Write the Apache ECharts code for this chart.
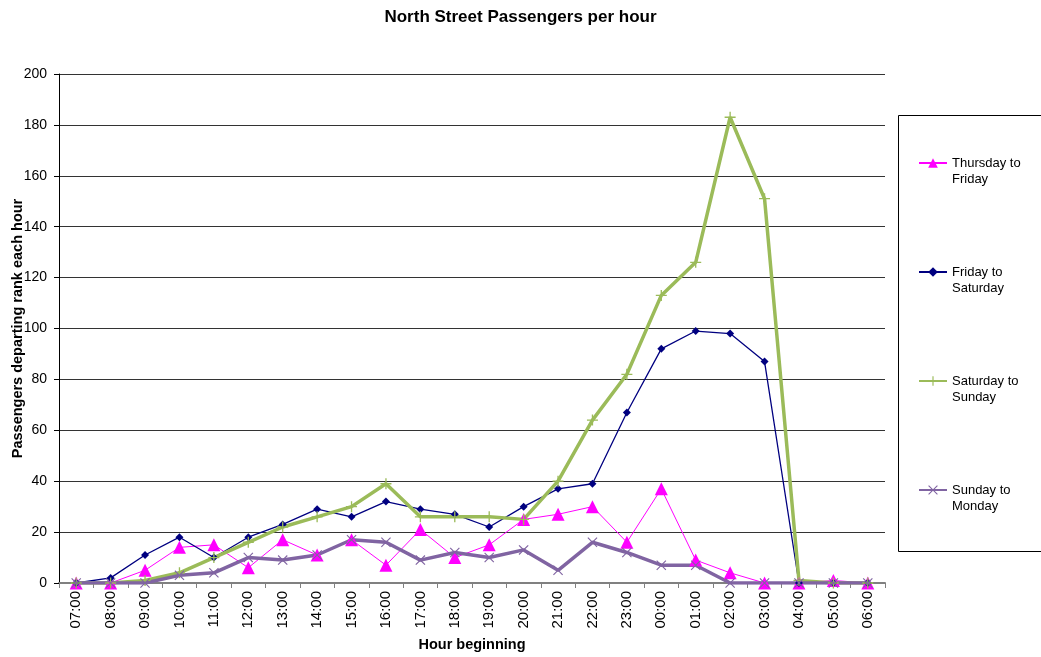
<!DOCTYPE html>
<html>
<head>
<meta charset="utf-8">
<script src="https://cdn.jsdelivr.net/npm/echarts@6/dist/echarts.min.js"></script>
<style>
  html, body { margin: 0; padding: 0; background: #fff; }
  #chart { width: 1041px; height: 657px; }
</style>
</head>
<body>
<div id="chart"></div>
<script>
'use strict';
// hours of departure, 07:00 through 06:00 next morning
const hours = ['07:00', '08:00', '09:00', '10:00', '11:00', '12:00', '13:00', '14:00', '15:00', '16:00', '17:00', '18:00',
  '19:00', '20:00', '21:00', '22:00', '23:00', '00:00', '01:00', '02:00', '03:00', '04:00', '05:00', '06:00'];
const thuFri = [0, 0, 5, 14, 15, 6, 17, 11, 17, 7, 21, 10, 15, 25, 27, 30, 16, 37, 9, 4, 0, 0, 1, 0];
const friSat = [0, 2, 11, 18, 10, 18, 23, 29, 26, 32, 29, 27, 22, 30, 37, 39, 67, 92, 99, 98, 87, 0, 0, 0];
const satSun = [0, 0, 1, 4, 10, 16, 22, 26, 30, 39, 26, 26, 26, 25, 40, 64, 82, 113, 126, 183, 151, 1, 0, 0];
const sunMon = [0, 0, 0, 3, 4, 10, 9, 11, 17, 16, 9, 12, 10, 13, 5, 16, 12, 7, 7, 0, 0, 0, 0, 0];
const yTicks = { min: 0, max: 200, step: 20 };

const FONT = '"Liberation Sans", Arial, sans-serif';
const PLUS = 'path://M4.4,0H5.6V4.4H10V5.6H5.6V10H4.4V5.6H0V4.4H4.4Z';
const CROSS = 'path://M0,0.8L0.8,0L5,4.2L9.2,0L10,0.8L5.8,5L10,9.2L9.2,10L5,5.8L0.8,10L0,9.2L4.2,5Z';

const series = [
  { name: 'Thursday to Friday', data: thuFri, color: '#FF00FF', width: 1, symbol: 'triangle', size: 13 },
  { name: 'Friday to Saturday', data: friSat, color: '#000080', width: 1.3, symbol: 'diamond', size: 8 },
  { name: 'Saturday to Sunday', data: satSun, color: '#9BBB59', width: 3.5, symbol: PLUS, size: 11 },
  { name: 'Sunday to Monday', data: sunMon, color: '#8064A2', width: 3.5, symbol: CROSS, size: 10 },
];
const legendTops = [139, 248, 357, 466];

const chart = echarts.init(document.getElementById('chart'));
chart.setOption({
  animation: false,
  title: {
    text: 'North Street Passengers per hour', left: 'center', top: 4,
    textStyle: { fontFamily: FONT, fontSize: 17, fontWeight: 'bold', color: '#000' },
  },
  grid: { left: 59, right: 156, top: 74, bottom: 74, containLabel: false, outerBoundsMode: 'none' },
  graphic: [{
    type: 'rect', shape: { x: 898.5, y: 115.5, width: 150, height: 436 },
    style: { fill: 'none', stroke: '#000', lineWidth: 1 }, z: 0,
  }],
  legend: series.map((s, i) => ({
    data: [s.name], orient: 'vertical', left: 918, top: legendTops[i],
    itemWidth: 28, itemHeight: 12, itemGap: 0, padding: 0,
    // leading blank line keeps the icon level with the first text line
    formatter: (n) => '\n' + n.replace(' to ', ' to\n'),
    textStyle: { fontFamily: FONT, fontSize: 13, color: '#000', lineHeight: 16 },
  })),
  xAxis: {
    type: 'category', data: hours, boundaryGap: true,
    name: 'Hour beginning', nameLocation: 'middle', nameGap: 54, nameMoveOverlap: false,
    nameTextStyle: { fontFamily: FONT, fontSize: 14.5, fontWeight: 'bold', color: '#000' },
    axisLine: { lineStyle: { color: '#808080', width: 2 } },
    axisTick: { show: true, length: 5, interval: 0, alignWithLabel: false, lineStyle: { color: '#808080' } },
    axisLabel: { rotate: 90, interval: 0, margin: 8, fontFamily: FONT, fontSize: 15, color: '#000' },
  },
  yAxis: {
    type: 'value', min: yTicks.min, max: yTicks.max, interval: yTicks.step,
    name: 'Passengers departing rank each hour', nameLocation: 'middle', nameGap: 34, nameMoveOverlap: false,
    nameTextStyle: { fontFamily: FONT, fontSize: 14.5, fontWeight: 'bold', color: '#000' },
    axisLine: { show: true, lineStyle: { color: '#000', width: 1 } },
    axisTick: { show: true, length: 5, inside: false, lineStyle: { color: '#000' } },
    axisLabel: { fontFamily: FONT, fontSize: 14, color: '#000', margin: 12 },
    splitLine: { show: true, lineStyle: { color: '#333', width: 1 } },
  },
  series: series.map((s) => ({
    name: s.name, type: 'line', data: s.data,
    symbol: s.symbol, symbolSize: s.size, showAllSymbol: true,
    itemStyle: { color: s.color },
    lineStyle: { color: s.color, width: s.width },
    emphasis: { disabled: true },
  })),
});
</script>
</body>
</html>
